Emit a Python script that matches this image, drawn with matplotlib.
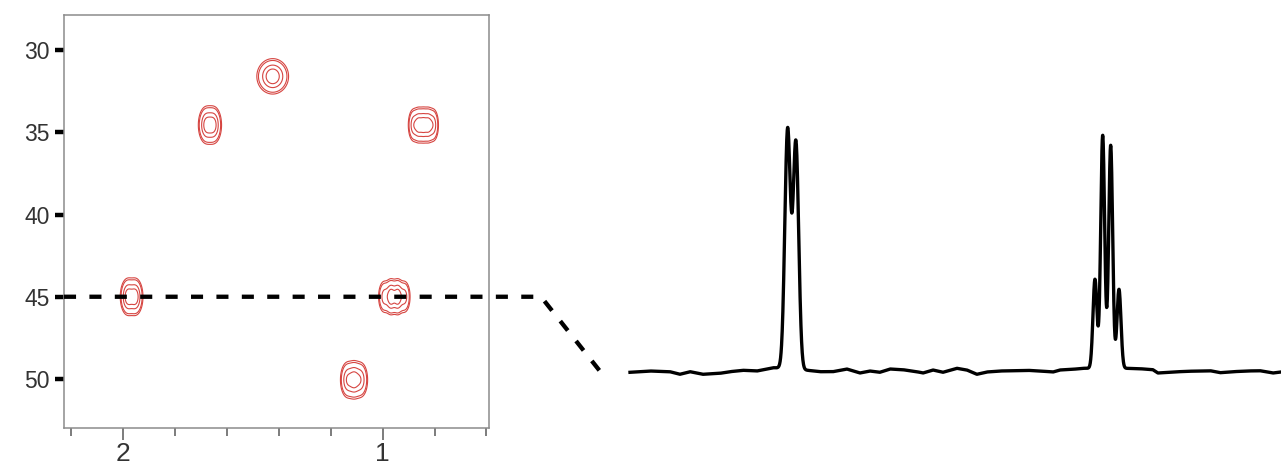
import numpy as np
import matplotlib
matplotlib.use("Agg")
import matplotlib.pyplot as plt
from matplotlib.lines import Line2D
from matplotlib.ticker import FixedLocator

plt.rcParams['font.family'] = ['Liberation Sans', 'DejaVu Sans']

# ---- 2D HSQC cross peaks -------------------------------------------------
peak_h = [1.424, 1.666, 0.843, 1.968, 0.955, 1.110]      # 1H shift, ppm
peak_c = [31.6, 34.56, 34.56, 45.0, 45.0, 50.05]         # 13C shift, ppm
peak_pattern = [                                          # relative line intensities
    [1.0],
    [1.0, 1.0],
    [0.6, 1.0, 1.0, 1.0, 0.6],
    [1.0, 1.0],
    [0.45, 1.0, 1.0, 0.45],
    [0.6, 1.0, 0.7],
]
peak_j = [0.0, 0.026, 0.019, 0.0275, 0.026, 0.025]        # line spacing, ppm
peak_sx = [0.025, 0.0135, 0.0095, 0.0125, 0.0105, 0.0125] # 1H width, ppm
peak_sy = [0.44, 0.48, 0.45, 0.47, 0.45, 0.48]            # 13C width, ppm
contour_levels = [0.05, 0.09, 0.3, 0.6]

h_ticks_major = [2, 1]
h_ticks_minor = [2.2, 1.8, 1.6, 1.4, 1.2, 0.8, 0.6]
c_ticks = [30, 35, 40, 45, 50]

# ---- 1D slice through 13C = 45 ppm ---------------------------------------
slice_c = 45.0
line_ppm = [1.9813, 1.9547, 0.9931, 0.9683, 0.9426, 0.9159]
line_height = [238, 226, 89, 233, 223, 79]
line_sigma = [0.0090, 0.0090, 0.0064, 0.0064, 0.0064, 0.0064]
baseline_ppm = [2.488, 2.424, 2.360, 2.328, 2.295, 2.254, 2.199, 2.167, 2.125,
                2.080, 2.048, 2.029, 1.974, 1.926, 1.877, 1.836, 1.791, 1.749,
                1.717, 1.685, 1.652, 1.611, 1.566, 1.546, 1.514, 1.482, 1.437,
                1.405, 1.373, 1.341, 1.299, 1.257, 1.212, 1.170, 1.128, 1.106,
                1.064, 1.032, 0.955, 0.897, 0.849, 0.807, 0.791, 0.742, 0.697,
                0.656, 0.623, 0.591, 0.550, 0.505, 0.463, 0.421, 0.395]
baseline_offset = [-1.3, 0.0, -0.7, -3.3, -0.7, -3.3, -2.3, -0.7, 0.7,
                   0.0, 2.0, 3.3, 2.5, 1.0, -0.7, -0.7, 2.0, -2.0,
                   0.0, -1.3, 2.0, 1.3, -0.7, -2.0, 1.0, -1.3, 2.7,
                   1.0, -3.3, -1.0, 0.0, 0.3, 0.7, 0.0, -1.0, 1.0,
                   1.7, 2.7, 2.7, 2.7, 2.3, 1.3, -2.0, -1.0, -0.3,
                   0.0, 0.3, -1.7, -0.7, 0.0, 0.3, -2.0, -1.0]

RED = '#d64541'
TEXT = '#333333'

fig = plt.figure(figsize=(12.81, 4.68), dpi=100)

# ---- 2D panel -------------------------------------------------------------
ax = fig.add_axes([64 / 1281, 40 / 468, 425 / 1281, 413 / 468])
xlim = (2.2287, 0.59)
ylim = (52.98, 27.87)

hx = np.linspace(0.59, 2.2287, 1400)
cy = np.linspace(27.87, 52.98, 700)
HX, CY = np.meshgrid(hx, cy)
for h0, c0, pat, j, sx, sy in zip(peak_h, peak_c, peak_pattern, peak_j, peak_sx, peak_sy):
    n = len(pat)
    offs = (np.arange(n) - (n - 1) / 2) * j
    fx = sum(w * np.exp(-0.5 * ((HX - (h0 + o)) / sx) ** 2) for w, o in zip(pat, offs))
    fy = np.exp(-0.5 * ((CY - c0) / sy) ** 2)
    z = fx * fy
    z /= z.max()
    ax.contour(HX, CY, z, levels=contour_levels, colors=RED, linewidths=0.8)

ax.set_xlim(*xlim)
ax.set_ylim(*ylim)
for s in ax.spines.values():
    s.set_color('#8c8c8c')
    s.set_linewidth(1.1)

ax.xaxis.set_major_locator(FixedLocator(h_ticks_major))
ax.xaxis.set_minor_locator(FixedLocator(h_ticks_minor))
ax.set_xticklabels([str(t) for t in h_ticks_major])
ax.tick_params(axis='x', which='major', direction='out', length=8.6, width=1.2,
               color='#666666', labelsize=19, labelcolor=TEXT, pad=1.5)
ax.tick_params(axis='x', which='minor', direction='out', length=5.8, width=1.2,
               color='#666666')
ax.set_yticks(c_ticks)
ax.set_yticklabels([str(t) for t in c_ticks])
ax.tick_params(axis='y', direction='out', length=6.5, width=3.2, color='black',
               labelsize=16.5, labelcolor=TEXT, pad=4)

# ---- 1D slice panel --------------------------------------------------------
ax2 = fig.add_axes([630 / 1281, 88 / 468, 651 / 1281, 260 / 468])
sx_ppm = np.linspace(2.488, 0.395, 4000)
trace = np.interp(sx_ppm, baseline_ppm[::-1], baseline_offset[::-1])
for p, a, s in zip(line_ppm, line_height, line_sigma):
    trace = trace + a * np.exp(-0.5 * ((sx_ppm - p) / s) ** 2)
ax2.plot(sx_ppm, trace, color='black', lw=2.4, solid_joinstyle='round', clip_on=False)
ax2.set_xlim(2.488, 0.395)
ax2.set_ylim(-9, 251)
ax2.axis('off')

# ---- dashed connector from the slice row to the trace ---------------------
fig.canvas.draw()
p0 = ax.transData.transform((xlim[0], slice_c))
p1 = (ax.transAxes.transform((1.1224, 0))[0], p0[1])
p2 = ax2.transData.transform((2.585, 0))
pts = fig.transFigure.inverted().transform(np.array([p0, p1, p2]))
fig.add_artist(Line2D(pts[:, 0], pts[:, 1], transform=fig.transFigure,
                      color='black', lw=3.1, linestyle=(0, (2.8, 3.1)),
                      dash_capstyle='butt', zorder=5))

fig.savefig('out.png', dpi=100)
